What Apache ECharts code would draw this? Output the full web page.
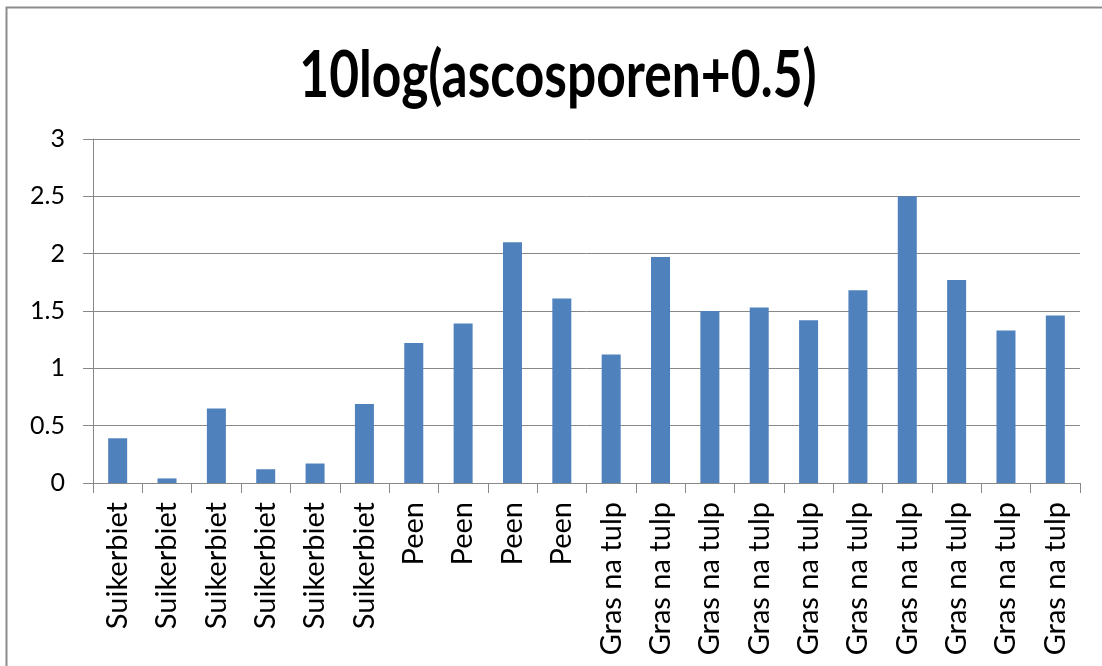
<!DOCTYPE html>
<html>
<head>
<meta charset="utf-8">
<script src="https://cdn.jsdelivr.net/npm/echarts@6/dist/echarts.min.js"></script>
<style>
  html, body { margin: 0; padding: 0; background: #fff; }
  #chart { width: 1102px; height: 666px; }
</style>
</head>
<body>
<div id="chart"></div>
<script>
const categories = [
  'Suikerbiet', 'Suikerbiet', 'Suikerbiet', 'Suikerbiet', 'Suikerbiet', 'Suikerbiet',
  'Peen', 'Peen', 'Peen', 'Peen',
  'Gras na tulp', 'Gras na tulp', 'Gras na tulp', 'Gras na tulp', 'Gras na tulp',
  'Gras na tulp', 'Gras na tulp', 'Gras na tulp', 'Gras na tulp', 'Gras na tulp'
]
const values = [
  0.39, 0.04, 0.65, 0.12, 0.17, 0.69,
  1.22, 1.39, 2.10, 1.61,
  1.12, 1.97, 1.50, 1.53, 1.42, 1.68, 2.50, 1.77, 1.33, 1.46
]
const yTicks = [0, 0.5, 1, 1.5, 2, 2.5, 3]
const titleText = '10log(ascosporen+0.5)'

const chart = echarts.init(document.getElementById('chart'))
chart.setOption({
  animation: false,
  graphic: [
    {
      type: 'rect',
      shape: { x: 6.5, y: 7.5, width: 1200, height: 800 },
      style: { fill: 'none', stroke: '#8c8c8c', lineWidth: 2 }
    },
    {
      // title, a bit taller than wide like the original
      type: 'text',
      x: 558,
      y: 76,
      scaleY: 1.25,
      style: {
        text: titleText,
        font: 'bold 51.5px Lato',
        fill: '#000',
        align: 'center',
        verticalAlign: 'middle'
      }
    }
  ],
  grid: { left: 93, right: 22, top: 139, bottom: 183 },
  xAxis: {
    type: 'category',
    data: categories,
    axisLine: { lineStyle: { color: '#888' } },
    axisTick: { show: true, length: 10, lineStyle: { color: '#888' } },
    axisLabel: {
      rotate: 90, interval: 0, margin: 19,
      fontFamily: 'Lato', fontSize: 29, color: '#000'
    }
  },
  yAxis: {
    type: 'value',
    min: yTicks[0],
    max: yTicks[yTicks.length - 1],
    interval: 0.5,
    axisLine: { show: true, lineStyle: { color: '#888' } },
    axisTick: { show: true, length: 10, lineStyle: { color: '#888' } },
    splitLine: { lineStyle: { color: '#888' } },
    axisLabel: {
      margin: 28,
      fontFamily: 'Lato', fontSize: 25, color: '#000'
    }
  },
  series: [{
    type: 'bar',
    data: values,
    barWidth: 19,
    itemStyle: { color: '#4f81bd' }
  }]
})
</script>
</body>
</html>
